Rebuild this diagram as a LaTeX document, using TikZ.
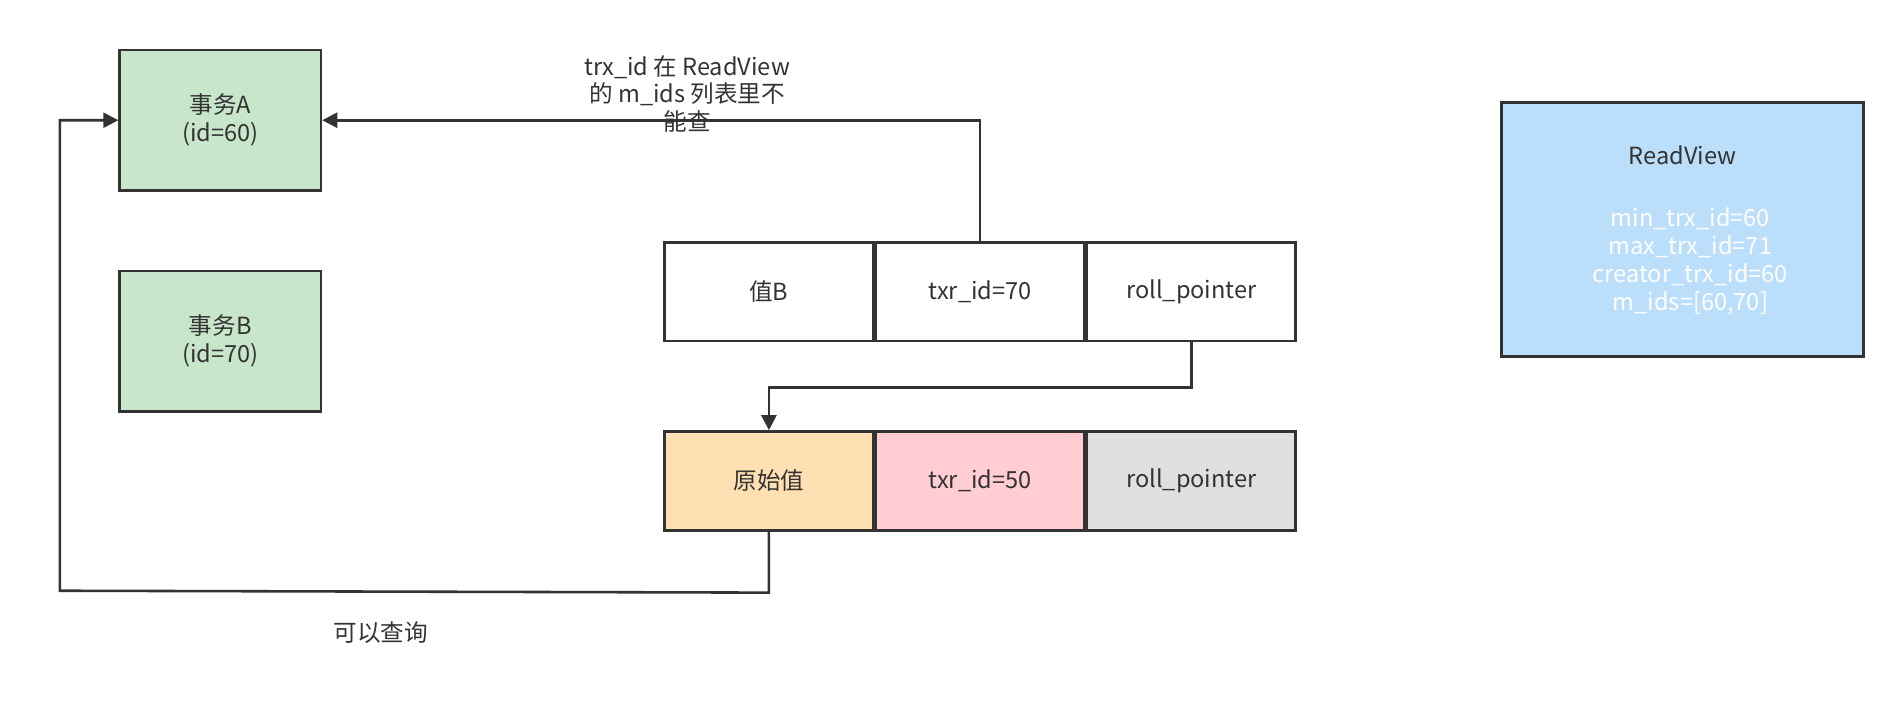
\documentclass[tikz,border=0pt]{standalone}
\usepackage{fontspec}
\setmainfont{Noto Sans CJK SC}
\usetikzlibrary{arrows.meta,positioning}
\definecolor{rand}{RGB}{51,51,51}
\definecolor{gruen}{RGB}{200,230,201}
\definecolor{orange}{RGB}{255,224,178}
\definecolor{rosa}{RGB}{255,205,210}
\definecolor{grau}{RGB}{224,224,224}
\definecolor{blau}{RGB}{187,222,251}
\begin{document}
\begin{tikzpicture}[x=0.02cm,y=-0.02cm,rand,line width=1.2pt,
    box/.style={draw=rand,minimum height=1.62cm,font=\fontsize{11}{13}\selectfont,align=center,inner sep=0pt},
    txbox/.style={box,fill=gruen,minimum width=3.3cm,minimum height=2.3cm},
    feld/.style={box,minimum width=3.42cm},
    pfeil/.style={-{Triangle[length=7pt,width=7pt]},rounded corners=0pt}]
    \useasboundingbox (0,0) rectangle (1560,588);

    \node[txbox] (ta) at (180.5,98.5) {事务A\\(id=60)};
    \node[txbox] (tb) at (180.5,279.5) {事务B\\(id=70)};

    \node[feld] (wb) at (630,239) {值B};
    \node[feld,right=0pt of wb] (id70) {txr\_id=70};
    \node[feld,right=0pt of id70] (rp1) {roll\_pointer};

    \node[feld,fill=orange] (orig) at (630,394) {原始值};
    \node[feld,fill=rosa,right=0pt of orig] (id50) {txr\_id=50};
    \node[feld,fill=grau,right=0pt of id50] (rp2) {roll\_pointer};

    \node[box,fill=blau,minimum width=5.94cm,minimum height=4.16cm] (rv) at (1378.5,188) {};
    \node[font=\fontsize{11}{13}\selectfont] at (1378.5,127) {ReadView};
    \node[font=\fontsize{11}{13}\selectfont,text=white,align=center] at (1385,214)
        {min\_trx\_id=60\\max\_trx\_id=71\\creator\_trx\_id=60\\m\_ids=[60,70]};

    \draw[pfeil] (id70.north) |- (ta.east);
    \node[font=\fontsize{11}{13}\selectfont,align=center] at (563,77)
        {trx\_id 在 ReadView\\的 m\_ids 列表里不\\能查};
    \draw[pfeil] (rp1.south) -- ++(0,37) -| (orig.north);
    \draw[pfeil] (orig.south) -- ++(0,50) -- (49,484) |- (ta.west);
    \node[font=\fontsize{11}{13}\selectfont] at (312,518) {可以查询};
\end{tikzpicture}
\end{document}
